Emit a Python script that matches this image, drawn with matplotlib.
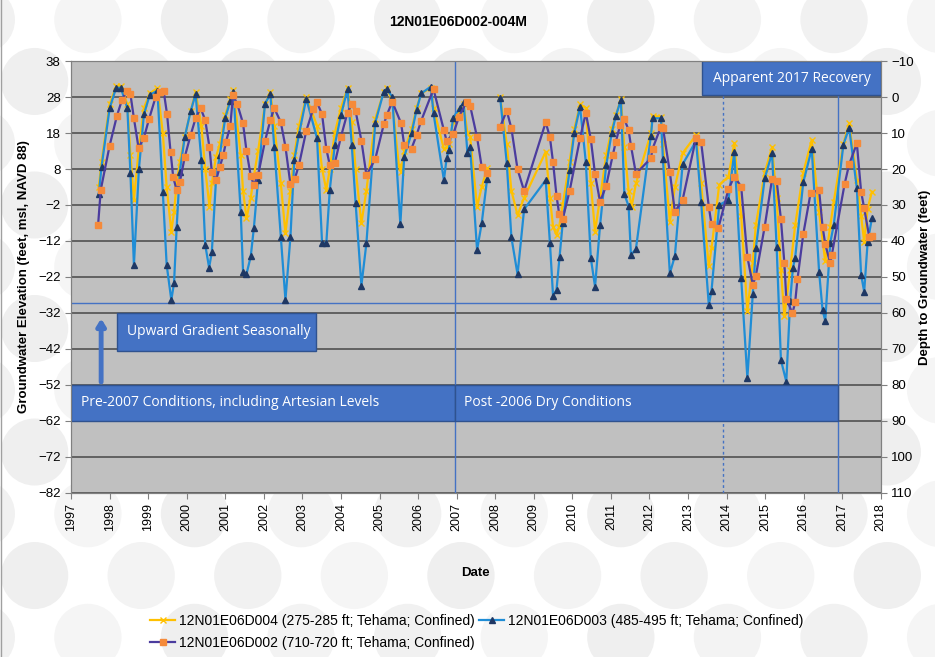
import numpy as np
import matplotlib
matplotlib.use('Agg')
import matplotlib.pyplot as plt
from matplotlib.patches import Rectangle, Ellipse

plt.rcParams['font.family'] = ['Liberation Sans', 'DejaVu Sans']

nan = np.nan

# 12N01E06D004 (275-285 ft) - yellow
d004_t = [1997.72, 1997.79, 1998.0, 1998.17, 1998.29, 1998.46, 1998.54, 1998.63, 1998.76, 1998.89,
          1999.04, 1999.24, 1999.38, 1999.48, 1999.60, 1999.67, 1999.74, 1999.82, 1999.95, 2000.10,
          2000.23, 2000.38, 2000.48, 2000.59, 2000.65, 2000.76, 2000.86, 2001.0, 2001.13, 2001.21,
          2001.40, 2001.46, 2001.55, 2001.66, 2001.74, 2001.85, 2002.03, 2002.17, 2002.27, 2002.44,
          2002.56, 2002.69, 2002.79, 2002.91, 2003.10, 2003.38, 2003.51, 2003.62, 2003.71, 2003.84,
          2004.0, 2004.17, 2004.28, 2004.38, 2004.53, 2004.66, 2004.89, 2005.11, 2005.19, 2005.33,
          2005.50, 2005.56, 2005.64, 2005.83, 2005.96, 2006.08, 2006.33, 2006.40, 2006.67, 2006.74,
          2006.80, 2006.91, 2007.08, 2007.18, 2007.28, 2007.35, 2007.53, 2007.65, 2007.79, 2007.95,
          2008.13, 2008.30, 2008.42, 2008.58, 2008.75, 2009.31, 2009.42, 2009.50, 2009.59, 2009.66,
          2009.75, 2009.93, 2010.05, 2010.20, 2010.35, 2010.48, 2010.59, 2010.72, 2010.88, 2011.02,
          2011.13, 2011.26, 2011.35, 2011.46, 2011.54, 2011.65, 2012.04, 2012.08, 2012.30, 2012.35,
          2012.53, 2012.66, 2012.86, 2013.21, 2013.34, 2013.54, 2013.61, 2013.81, 2014.05, 2014.20,
          2014.38, 2014.54, 2014.68, 2014.76, 2014.99, 2015.18, 2015.30, 2015.41, 2015.50, 2015.65,
          2015.78, 2015.99, 2016.21, 2016.40, 2016.56, 2016.69, 2016.78, 2017.03, 2017.18, 2017.38,
          2017.49, 2017.57, 2017.66, 2017.77]
d004_v = [3, 10, 26, 31, 31, 26, 12, -0.6, 14, 25,
          29, 30.5, 18, 3, -9.4, -4, 4, 10, 17, 24,
          29.5, 20, 8, -2.5, 4, 11.4, 15, 23, 27.5, 30,
          12, 2, -5.7, 0, 6, 13, 26, 29.5, 20, 4,
          -9.9, 2, 12, 20, 28, 20, 8, 2.2, 8, 18,
          25, 30.5, 21, 8, -7.1, 2, 22, 29.5, 30.5, 27,
          9, 7.3, 13, 19, 25, 29, 30.5, 25, 13.5, 14,
          15, 21, 24, 26, 18, 17, -2.5, 3, 8.2, nan,
          28, 15, 2, -4.8, 0, 12.8, 0, -8, -10.3, -8,
          -2, 10, 19, 26, 25, 4, -9.4, 0, 12, 19,
          23, 27.5, 14, 2, -2.5, 4, 18, 22.8, 22.5, 15,
          -6.6, 3, 12.4, 17.4, 4, -19.1, -14, 3.6, 5.9, 15.1,
          -5, -31.6, -18, -7.6, 7, 14, 0, -20, -33, -20,
          -7.6, 7, 16.1, -4, -17.7, -8, -1.1, 15, 20.7, 5,
          -5, -12.2, -3, 1.7]

# 12N01E06D003 (485-495 ft) - blue
d003_t = [1997.72, 1997.79, 1998.0, 1998.17, 1998.29, 1998.46, 1998.54, 1998.63, 1998.76, 1998.89,
          1999.04, 1999.24, 1999.38, 1999.48, 1999.60, 1999.67, 1999.74, 1999.82, 1999.95, 2000.10,
          2000.23, 2000.38, 2000.48, 2000.58, 2000.65, 2000.76, 2000.86, 2001.0, 2001.13, 2001.21,
          2001.40, 2001.46, 2001.55, 2001.66, 2001.74, 2001.85, 2002.03, 2002.17, 2002.27, 2002.44,
          2002.56, 2002.69, 2002.79, 2002.91, 2003.10, 2003.38, 2003.51, 2003.62, 2003.71, 2003.84,
          2004.0, 2004.17, 2004.28, 2004.38, 2004.53, 2004.66, 2004.89, 2005.11, 2005.19, 2005.33,
          2005.54, 2005.64, 2005.83, 2005.96, 2006.08, 2006.33, 2006.40, 2006.67, 2006.74, 2006.80,
          2006.91, 2007.08, 2007.18, 2007.28, 2007.35, 2007.53, 2007.65, 2007.79, 2007.95, 2008.13,
          2008.30, 2008.42, 2008.58, 2008.75, 2009.31, 2009.42, 2009.50, 2009.59, 2009.67, 2009.75,
          2009.93, 2010.05, 2010.20, 2010.35, 2010.48, 2010.59, 2010.72, 2010.88, 2011.02, 2011.13,
          2011.26, 2011.35, 2011.46, 2011.52, 2011.65, 2012.04, 2012.08, 2012.30, 2012.35, 2012.53,
          2012.66, 2012.86, 2013.21, 2013.34, 2013.54, 2013.61, 2013.81, 2014.05, 2014.20, 2014.38,
          2014.54, 2014.68, 2014.76, 2014.99, 2015.18, 2015.30, 2015.41, 2015.55, 2015.65, 2015.72,
          2015.78, 2015.99, 2016.21, 2016.40, 2016.49, 2016.56, 2016.69, 2016.78, 2017.03, 2017.18,
          2017.38, 2017.49, 2017.57, 2017.66, 2017.77]
d003_v = [1.1, 8.6, 24.9, 30.6, 30.6, 24.9, 6.8, -18.7, 8.0, 23.2,
          28.6, 29.8, 1.7, -18.7, -28.4, -23.8, -8.0, 7.3, 17, 24,
          28.8, 10.5, -13.1, -19.4, -15.2, 5.2, 12, 22.3, 26.9, 29.5,
          -3.9, -20.5, -21.2, -16.3, -8.5, 4.9, 26.2, 28.8, 14.2, -10.8,
          -28.4, -10.8, 10.5, 17.6, 27.6, 16.5, -12.6, -12.6, 2.2, 14.7,
          23, 30.2, 14.7, -1.5, -24.4, -12.6, 20.9, 29.5, 30.2, 28.1,
          -7.3, 11.4, 17.9, 24.4, 29.0, 30.9, 23.5, 4.9, 11.0, 13.3,
          22.3, 24.9, 26.5, 12.5, 14.0, -14.5, -7.1, 5.2, nan, 27.8,
          9.6, -11.0, -21.3, -3.2, 4.9, -12.6, -27.2, -25.6, -16.4, -7.1,
          7.7, 18, 25.3, 10, -16.8, -24.7, -7.6, 9.1, 17.9, 22.8,
          27.2, 0.97, -2.3, -15.9, -14.2, 17.3, 22.1, 22.1, 10.8, -21.0,
          -16.2, 9.3, 15.8, -1.1, -29.8, -25.9, -2.0, -0.6, 12.6, -22.4,
          -50.1, -26.8, -14.0, 5.4, 12.4, -13.8, -45.1, -51.1, -28.8, -19.6,
          -16.6, 4.3, 13.6, -20.5, -31.2, -34.2, -12.5, -7.6, 14.7, 19.5,
          2.6, -21.4, -26.1, -12.2, -5.7]

# 12N01E06D002 (710-720 ft) - purple / orange squares
d002_t = [1997.70, 1997.77, 1998.0, 1998.19, 1998.32, 1998.45, 1998.54, 1998.63, 1998.75, 1998.89,
          1999.02, 1999.19, 1999.30, 1999.40, 1999.49, 1999.58, 1999.65, 1999.74, 1999.82, 1999.95,
          2000.10, 2000.23, 2000.36, 2000.48, 2000.59, 2000.65, 2000.76, 2000.86, 2000.95, 2001.02,
          2001.13, 2001.20, 2001.31, 2001.46, 2001.55, 2001.66, 2001.74, 2001.85, 2002.03, 2002.17,
          2002.27, 2002.44, 2002.56, 2002.69, 2002.80, 2002.91, 2003.10, 2003.28, 2003.38, 2003.51,
          2003.62, 2003.71, 2003.84, 2004.0, 2004.17, 2004.28, 2004.38, 2004.53, 2004.66, 2004.89,
          2005.11, 2005.19, 2005.33, 2005.56, 2005.64, 2005.83, 2005.96, 2006.08, 2006.40, 2006.67,
          2006.74, 2006.91, 2007.06, 2007.26, 2007.35, 2007.53, 2007.65, 2007.78, 2007.95, 2008.13,
          2008.30, 2008.42, 2008.58, 2008.75, 2009.31, 2009.42, 2009.50, 2009.59, 2009.66, 2009.75,
          2009.93, 2010.20, 2010.35, 2010.48, 2010.59, 2010.72, 2010.88, 2011.05, 2011.13, 2011.24,
          2011.35, 2011.46, 2011.52, 2011.65, 2012.04, 2012.08, 2012.30, 2012.35, 2012.53, 2012.66,
          2012.86, 2013.21, 2013.34, 2013.54, 2013.61, 2013.79, 2014.05, 2014.20, 2014.38, 2014.54,
          2014.68, 2014.76, 2014.99, 2015.18, 2015.30, 2015.41, 2015.50, 2015.55, 2015.71, 2015.78,
          2015.84, 2015.99, 2016.18, 2016.40, 2016.49, 2016.56, 2016.69, 2016.73, 2017.06, 2017.18,
          2017.38, 2017.49, 2017.57, 2017.70, 2017.77]
d002_v = [-7.7, 2.2, 14.5, 22.8, 27.2, 29.8, 28.8, 22.1, 13.9, 16.7,
          21.8, 27.9, 29.5, 29.8, 23.2, 12.8, 5.7, 2.1, 4.3, 11.4,
          17.4, 22.1, 24.9, 21.6, 14.0, 7.3, 4.9, 8.6, 12.0, 15.6,
          20.0, 28.5, 26.1, 20.7, 13, 6.1, 3.6, 6.2, 15.8, 21.6,
          24.9, 21.0, 14.2, 3.7, 5.2, 9.1, 18.6, 24.7, 26.5, 23.2,
          13.6, 9.1, 9.6, 17, 23.7, 26.0, 24.1, 15.9, 6.3, 10.8,
          20.4, 23.0, 26.7, 20.7, 14.7, 13.7, 17.4, 21.4, 30.2, 18.8,
          15.8, 17.7, 22.5, 26.7, 25.6, 16.8, 8.6, 7.0, nan, 19.8,
          24.2, 19.3, 7.9, 1.9, 21.0, 16.8, 9.9, 0.6, -4.6, -5.9,
          1.9, 16.5, 23.6, 16.3, 6.5, -1.1, 3.4, 11.9, 15.6, 20.2,
          21.9, 18.8, 14.5, 6.7, 11.0, 13.6, 19.8, 19.5, 7.1, -3.9,
          -0.6, 16.7, 15.6, -2.5, -7.4, -8.3, 2.4, 5.9, 3.1, -16.4,
          -24.2, -21.7, -8.0, 5.2, 4.7, -5.9, -18.2, -28.1, -32.1, -29.0,
          -22.6, -10.1, 1.3, 2.2, -8.0, -12.9, -18.2, -15.9, 3.7, 9.3,
          15.1, 1.7, -2.9, -10.8, -10.5]

years = list(range(1997, 2019))
elev_ticks = list(range(-82, 39, 10))
depth_ticks = list(range(-10, 111, 10))

box_color = '#4472C4'
box_edge = '#2F528F'
line_blue = '#4472C4'

fig = plt.figure(figsize=(9.35, 6.57), dpi=100)

# faint dotted background like the slide template (drawn under the axes)
shades = ['#F1F1F1', '#F5F5F5', '#EFEFEF', '#F3F3F3']
k = 0
for row in range(12):
    yc = 0.03 + row * 0.094
    off = 0.057 if row % 2 else 0.0
    for col in range(10):
        xc = -0.02 + off + col * 0.114
        fig.add_artist(Ellipse((xc, yc), 0.072, 0.102, transform=fig.transFigure,
                               facecolor=shades[k % 4], edgecolor='none', zorder=-10))
        k += 1
fig.add_artist(plt.Line2D([0.001, 0.001], [0, 1], color='#A0A0A0', lw=1.0,
                          transform=fig.transFigure, zorder=-5))

ax = fig.add_axes([0.076, 0.250, 0.866, 0.657])
ax.set_zorder(1)
ax.set_facecolor('#C0C0C0')

l1, = ax.plot(d004_t, d004_v, color='#FFC000', lw=1.6, marker='x', ms=5, mew=1.0,
              mec='#FFC000', zorder=3,
              label='12N01E06D004 (275-285 ft; Tehama; Confined)')
l2, = ax.plot(d003_t, d003_v, color='#1F8DD6', lw=1.6, marker='^', ms=4.5,
              mfc='#1F3864', mec='#1F3864', zorder=4,
              label='12N01E06D003 (485-495 ft; Tehama; Confined)')
l3, = ax.plot(d002_t, d002_v, color='#4B3C9E', lw=1.6, marker='s', ms=4.5,
              mfc='#F58A3A', mec='#F58A3A', zorder=5,
              label='12N01E06D002 (710-720 ft; Tehama; Confined)')

ax.set_xlim(1997, 2018)
ax.set_ylim(-82, 38)
ax.set_yticks(elev_ticks)
ax.set_xticks(years)
ax.set_xticklabels([str(y) for y in years], rotation=90, fontsize=9)
ax.tick_params(axis='y', labelsize=9.5, length=4, color='#808080')
ax.tick_params(axis='x', length=4, color='#808080')
ax.grid(axis='y', color='#5A5A5A', lw=1.3, zorder=1)
ax.set_axisbelow(True)
for s in ax.spines.values():
    s.set_color('#808080')

# reference lines
ax.axvline(2006.95, color=line_blue, lw=1.0, zorder=2)
ax.axvline(2013.92, color=line_blue, lw=1.0, ls=(0, (2, 2)), zorder=2)
ax.axvline(2016.9, color=line_blue, lw=1.0, zorder=2)
ax.axhline(-29.2, color=line_blue, lw=1.0, zorder=2)

# annotation boxes
boxes = [
    (1997.0, -62.0, 2006.95, -52.0, 'Pre-2007 Conditions, including Artesian Levels', 'left'),
    (2006.95, -62.0, 2016.9, -52.0, 'Post -2006 Dry Conditions', 'left'),
    (1998.2, -42.5, 2003.35, -32.0, 'Upward Gradient Seasonally', 'left'),
    (2013.37, 28.6, 2018.0, 38.0, 'Apparent 2017 Recovery', 'center'),
]
for x0, y0, x1, y1, txt, ha in boxes:
    ax.add_patch(Rectangle((x0, y0), x1 - x0, y1 - y0, facecolor=box_color,
                           edgecolor=box_edge, lw=1.0, zorder=6))
    tx = x0 + 0.25 if ha == 'left' else (x0 + x1) / 2
    ax.text(tx, (y0 + y1) / 2, txt, ha=ha, va='center', color='white',
            fontsize=10, family=['Open Sans', 'DejaVu Sans'], zorder=7)

ax.annotate('', xy=(1997.78, -32.8), xytext=(1997.78, -52),
            arrowprops=dict(arrowstyle='-|>,head_width=0.25,head_length=0.4',
                            color=box_color, lw=3.5), zorder=7)

ax.set_ylabel('Groundwater Elevation (feet, msl, NAVD 88)', fontsize=9.5,
              fontweight='bold', labelpad=6)
ax.set_xlabel('Date', fontsize=9.5, fontweight='bold', labelpad=26)

ax2 = ax.twinx()
ax2.set_ylim(110, -10)
ax2.set_yticks(depth_ticks)
ax2.tick_params(axis='y', labelsize=9.5, length=4, color='#808080')
for s in ax2.spines.values():
    s.set_color('#808080')
ax2.set_ylabel('Depth to Groundwater (feet)', fontsize=9.5, fontweight='bold',
               labelpad=4)

fig.text(0.49, 0.966, '12N01E06D002-004M', ha='center', va='center',
         fontsize=10, fontweight='bold')

fig.legend(handles=[l1, l3, l2], ncol=2, loc='center', bbox_to_anchor=(0.51, 0.038),
           frameon=False, fontsize=10, handlelength=1.8, handletextpad=0.3,
           columnspacing=0.3, labelspacing=0.6)

fig.savefig('out.png', dpi=100)
